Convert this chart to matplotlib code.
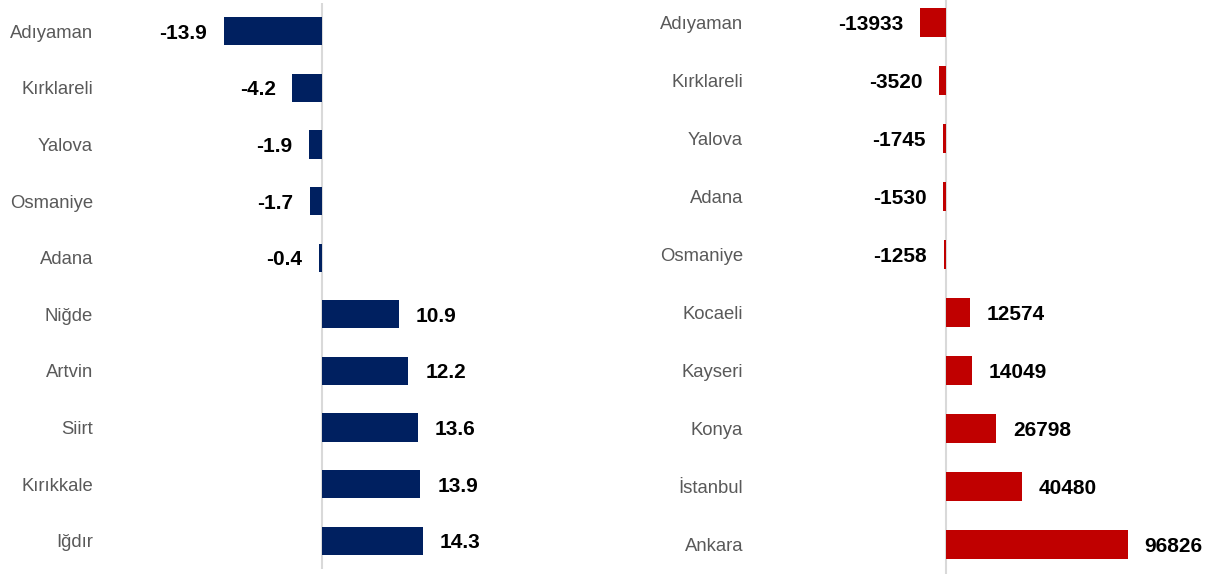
import matplotlib
matplotlib.use("Agg")
import matplotlib.pyplot as plt

plt.rcParams['font.family'] = ['Liberation Sans', 'DejaVu Sans']

# left panel: percentage change
left_cities = ["Adıyaman", "Kırklareli", "Yalova", "Osmaniye", "Adana",
               "Niğde", "Artvin", "Siirt", "Kırıkkale", "Iğdır"]
left_values = [-13.9, -4.2, -1.9, -1.7, -0.4, 10.9, 12.2, 13.6, 13.9, 14.3]

# right panel: absolute change
right_cities = ["Adıyaman", "Kırklareli", "Yalova", "Adana", "Osmaniye",
                "Kocaeli", "Kayseri", "Konya", "İstanbul", "Ankara"]
right_values = [-13933, -3520, -1745, -1530, -1258, 12574, 14049, 26798, 40480, 96826]

W, H = 1217, 575
fig = plt.figure(figsize=(W / 100, H / 100), dpi=100)


def px_axes(x0, x1, ytop, ybot):
    return fig.add_axes([x0 / W, (H - ybot) / H, (x1 - x0) / W, (ybot - ytop) / H])


def draw_panel(ax, cities, values, color, xlim, fmt):
    y = range(len(cities))
    ax.barh(y, values, height=0.5, color=color)
    ax.set_ylim(len(cities) - 0.5, -0.5)
    ax.set_xlim(*xlim)
    ax.set_yticks(list(y))
    ax.set_yticklabels(cities, fontsize=13.3, color="#595959")
    ax.tick_params(axis="y", length=0, pad=5)
    ax.set_xticks([])
    for s in ax.spines.values():
        s.set_visible(False)
    ax.axvline(0, color="#D9D9D9", lw=1.5, zorder=0)
    for yi, v in zip(y, values):
        off = 12 if v > 0 else -12
        ax.annotate(fmt(v), xy=(v, yi), xytext=(off, 0), textcoords="offset points",
                    ha="left" if v > 0 else "right", va="center_baseline",
                    fontsize=15, fontweight="bold", color="black")


ax1 = px_axes(100, 560, 3, 569)
draw_panel(ax1, left_cities, left_values, "#002060", (-31.36, 33.6),
           lambda v: f"{v:.1f}")

ax2 = px_axes(750, 1217, -7, 574)
draw_panel(ax2, right_cities, right_values, "#C00000", (-104255, 144149),
           lambda v: f"{v:d}")

fig.savefig("out.png", dpi=100)
